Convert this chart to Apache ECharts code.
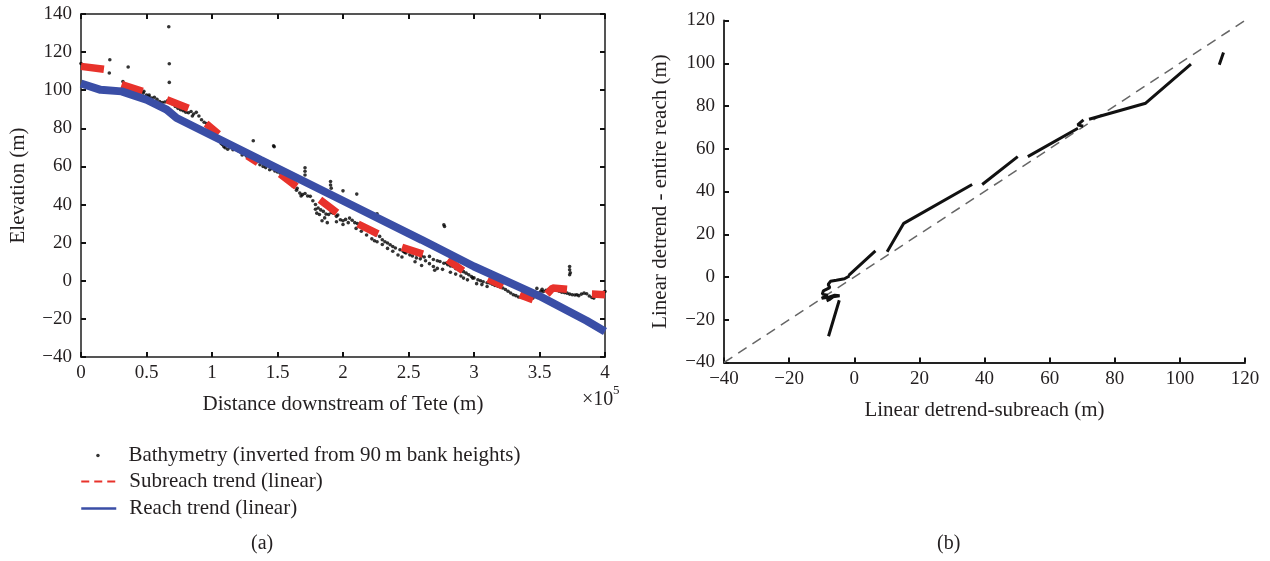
<!DOCTYPE html>
<html><head><meta charset="utf-8">
<script src="https://cdn.jsdelivr.net/npm/echarts@6/dist/echarts.min.js"></script>
<style>html,body{margin:0;padding:0;background:#fff}#c{width:1270px;height:561px}</style>
</head><body><div id="c"></div>
<script>
// ---------- DATA ----------
// (a) Bathymetry: distance downstream of Tete (m) and elevation (m)
const bathyDist = [
  33000,36000,39000,42000,45000,47500,50000,52000,54000,56000,58000,60000,62000,64000,66000,68000,70000,72000,74000,76000,
  78000,80000,82000,84000,86000,88000,90000,92000,94000,96000,98500,100000,102000,104000,106000,108000,110000,112000,114000,116000,
  118000,120000,122000,124000,126500,129000,131000,134000,136600,139000,141000,144000,146000,148000,150000,152000,154000,156000,158000,159500,
  162000,164500,167000,169000,171000,173000,175000,177000,179000,181000,183000,185000,187000,189000,191000,192600,195000,198000,200000,202000,
  205000,207000,209000,211000,213000,215000,217000,219000,221000,223000,225000,228000,230000,232000,234000,236000,238000,240000,243500,246000,
  248000,251000,253000,256000,259000,262000,266000,269000,272000,274000,277000,280000,282000,284000,286000,288000,290000,292000,294000,296000,
  298000,300000,303000,305000,307000,310000,312000,314000,316000,318000,320000,322000,324000,326000,328000,330000,332000,334000,336000,338000,
  340000,342000,345000,347000,349000,351000,353000,355000,357000,359000,361000,363000,365000,367000,369000,371000,373000,375000,377000,378500,
  380000,382000,384000,386000,388000,390000,391500,393000,395000,397000,399000,400000,
  // scattered points
  0,21600,22000,32000,36000,67400,67400,67000,131500,147000,147500,171000,171000,171000,190500,190500,191000,200000,210500,226000,
  277000,277500,373000,373000,373500,373000,179000,180000,182000,184000,186000,188000,195000,200000,204000,210000,214000,218000,222000,224000,
  226000,230000,234000,238000,242000,245000,247000,255000,260000,263000,266000,269000,270000,272000,276000,279000,282000,286000,290000,292000,
  295000,299000,302000,306000,310000,107000,109000,113000,117000,123000,48000,52000,79000,85000,157000,161000,165000,168000,196000,256000,
  260000,348000,352000
];
const bathyElev = [
  102.5,101.5,100.8,100,99.2,98.5,97.5,96.5,95.9,96.3,95.2,94.1,93.5,93.8,94.5,94.1,92.8,91.5,90.5,89.8,
  89.2,88.5,88.2,88.8,87.5,88.4,86.5,84.5,83.2,82.5,81,79.5,77.5,75.8,74,71.5,69.8,69,70,68.8,
  69.3,68.2,67.5,66.8,65.3,64.5,64,62.3,60.9,60,59.4,58.3,58.8,57.6,57.1,56.5,55,53.5,52.4,51.3,
  49.5,47.5,46,45.2,45.8,44.5,44.3,42,40,38.2,37.2,36.4,35,34.8,35.8,35.5,33.8,32,31.5,32.2,
  32.9,31.8,30.5,30,29.4,28.6,27.5,26.8,25.9,24.8,24,23.3,21.5,20.5,19.8,18.9,18,17.2,16.3,15.5,
  14.6,13.6,13,12,11.5,12.5,12.8,11.2,10.5,10.1,9.2,8.4,7.8,7.5,6.4,5.8,5.2,4.8,4,3.2,
  2.2,1.5,0.5,0,-0.5,-1,-1.2,-1.8,-2.5,-2.8,-3.3,-3.8,-4.6,-5.5,-6.4,-7.3,-7.8,-8.5,-8.8,-9.1,
  -9.3,-9.5,-9.1,-8,-6.5,-5.5,-5.6,-5,-4.5,-4.8,-5,-4.7,-5.5,-6,-6.2,-6.5,-7,-7.3,-7.5,-7.3,
  -7.8,-7,-6.5,-6.8,-8,-8.8,-9.1,-8,-7,-6.8,-6,-5.6,
  // scattered points
  114,109,116,104.6,112.2,113.9,104.1,133.3,73.5,70.8,70.3,59.3,57.5,55.5,52.1,50.3,48.6,47.2,45.5,35.2,
  29.4,28.5,7.5,5.8,4.2,3.2,37.5,35.5,34.8,31.5,33,30.5,31,29.5,30.5,27.5,26,24,22,21,
  20.5,19,17,15.5,13.5,12.5,15,10,8,10.5,9,7.5,5.5,6.5,6,9.3,4.5,3.5,2.5,1.4,
  0.5,1.4,-1.5,-2,-3,72,70.5,71,70,66,99.5,97.5,89.8,86.5,55,51,48.5,44.5,34.5,14,
  13,-4,-4.5
];
// (a) Subreach linear trends (null = break between subreaches)
const subreachDist = [0,17500,null, 31000,47000,null, 65500,82000,null, 95500,105000,null, 127000,135000,null,
  152000,164500,null, 182400,195400,null, 211500,226700,null, 245000,261000,null, 280000,291600,null,
  310700,322100,null, 335000,345000,null, 355700,360000,371000,null, 390000,400000];
const subreachElev = [112.5,111,null, 103,99.4,null, 95,90.5,null, 82.5,77,null, 65.6,62,null,
  56,49.5,null, 42.5,35.7,null, 29.8,24.6,null, 17.6,14,null, 11,5.3,null,
  1,-2.8,null, -7.3,-10,null, -7,-3.8,-4.5,null, -7,-7.3];
// (a) Reach linear trend
const reachDist = [0,15000,31000,50000,65400,73000,137000,200000,260000,300000,350000,386000,400000];
const reachElev = [103.5,100.2,99.4,95,89.8,85.4,63.5,42,21.5,7.5,-8,-21,-26.6];

// (b) Linear detrend: subreach (x) vs entire reach (y); null = gap
const detrendSub = [-7.9,-4.6,null,
  -1.5,-3,-5.5,-7.3,-8,-7.5,-9.5,-9.8,-8.2,-10,-8,-6,-4.5,-6.5,-7.5,-8.5,null,
  -1.7,6.5,null, 10.1,15.2,36.2,null, 39.3,50.2,null, 53.3,68.7,null, 70.4,68.6,70.3,null,
  72.1,89.5,103.4,null, 112.1,113.4];
const detrendReach = [-27.7,-10.9,null,
  0.5,-0.8,-1.5,-2,-3.5,-5,-6.5,-8,-8.5,-10,-9.5,-8.5,-8.8,-9.3,-10.5,-11.2,null,
  0.8,12.2,null, 11.8,25.1,43.3,null, 43.3,56.3,null, 56.3,69.6,null, 73.5,71.2,70.5,null,
  73.8,81.3,99.6,null, 99.3,105];
const oneToOne = [-40,120];

// Tick settings
const distTicks = {min: 0, max: 400000, interval: 50000};
const elevTicks = {min: -40, max: 140, interval: 20};
const detrendTicks = {min: -40, max: 120, interval: 20};

const names = {
  bathy: 'Bathymetry (inverted from 90\u2009m bank heights)',
  sub: 'Subreach trend (linear)',
  reach: 'Reach trend (linear)'
};

// ---------- CHART ----------
const FONT = 'Liberation Serif';
const TXT = '#231f20';
const pair = (xs, ys) => xs.map((x, i) => (x === null ? [null, null] : [x, ys[i]]));
const minus = v => String(v).replace('-', '\u2212');

const tick = {show: true, inside: true, length: 5, lineStyle: {color: '#111', width: 2}};
const lbl = {color: TXT, fontFamily: FONT, fontSize: 19};
const nameStyle = {color: TXT, fontFamily: FONT, fontSize: 21};
const axLine = c => ({onZero: false, lineStyle: {color: c, width: 2}});

const chart = echarts.init(document.getElementById('c'), null, {renderer: 'canvas'});
chart.setOption({
  animation: false,
  backgroundColor: '#fff',
  textStyle: {fontFamily: FONT},
  grid: [
    {left: 81, top: 14, width: 524, height: 343},
    {left: 724, top: 20.5, width: 521, height: 342}
  ],
  xAxis: [
    {type: 'value', gridIndex: 0, position: 'bottom', ...distTicks,
      axisLine: axLine('#555'), axisTick: tick, splitLine: {show: false},
      axisLabel: {...lbl, margin: 7, formatter: v => String(v / 100000)},
      name: 'Distance downstream of Tete (m)', nameLocation: 'middle', nameGap: 37, nameTextStyle: nameStyle},
    {type: 'value', gridIndex: 0, position: 'top', ...distTicks,
      axisLine: axLine('#555'), axisTick: tick, splitLine: {show: false},
      axisLabel: {show: false}},
    {type: 'value', gridIndex: 1, position: 'bottom', ...detrendTicks,
      axisLine: axLine('#222'), axisTick: tick, splitLine: {show: false},
      axisLabel: {...lbl, margin: 7, formatter: minus},
      name: 'Linear detrend-subreach (m)', nameLocation: 'middle', nameGap: 37, nameTextStyle: nameStyle}
  ],
  yAxis: [
    {type: 'value', gridIndex: 0, position: 'left', ...elevTicks,
      axisLine: axLine('#555'), axisTick: tick, splitLine: {show: false},
      axisLabel: {...lbl, margin: 9, formatter: minus},
      name: 'Elevation (m)', nameLocation: 'middle', nameGap: 52, nameTextStyle: nameStyle},
    {type: 'value', gridIndex: 0, position: 'right', ...elevTicks,
      axisLine: axLine('#555'), axisTick: tick, splitLine: {show: false},
      axisLabel: {show: false}},
    {type: 'value', gridIndex: 1, position: 'left', ...detrendTicks,
      axisLine: axLine('#333'), axisTick: tick, splitLine: {show: false},
      axisLabel: {...lbl, margin: 9, formatter: minus},
      name: 'Linear detrend - entire reach (m)', nameLocation: 'middle', nameGap: 53, nameTextStyle: nameStyle}
  ],
  legend: [
    {data: [names.bathy], orient: 'vertical', left: 96.2, top: 445, padding: 0,
      itemWidth: 35, itemHeight: 3.5, icon: 'circle',
      textStyle: {color: TXT, fontFamily: FONT, fontSize: 21, padding: [0, 0, 0, 8]}},
    {data: [{name: names.sub, lineStyle: {type: [8, 5], width: 2}}, {name: names.reach, lineStyle: {width: 2.5}}],
      orient: 'vertical', left: 80, top: 471, padding: 0, itemGap: 6,
      itemWidth: 35, itemHeight: 14, lineStyle: {width: 2},
      itemStyle: {color: 'rgba(0,0,0,0)', opacity: 0, borderWidth: 0},
      textStyle: {color: TXT, fontFamily: FONT, fontSize: 21, padding: [0, 0, 0, 8]}}
  ],
  graphic: [
    {type: 'text', left: 582, top: 390, style: {text: '\u00d710', fill: TXT, font: '20px "Liberation Serif"'}},
    {type: 'text', left: 613, top: 384, style: {text: '5', fill: TXT, font: '13px "Liberation Serif"'}},
    {type: 'text', left: 251, top: 534, style: {text: '(a)', fill: TXT, font: '20px "Liberation Serif"'}},
    {type: 'text', left: 937, top: 534, style: {text: '(b)', fill: TXT, font: '20px "Liberation Serif"'}}
  ],
  series: [
    {name: names.bathy, type: 'scatter', xAxisIndex: 0, yAxisIndex: 0, symbol: 'circle', symbolSize: 3.6,
      itemStyle: {color: '#000'}, data: pair(bathyDist, bathyElev), z: 2},
    {name: names.sub, type: 'line', xAxisIndex: 0, yAxisIndex: 0, symbol: 'none', connectNulls: false,
      lineStyle: {color: '#e8322b', width: 7.5}, itemStyle: {color: '#e8322b'},
      data: pair(subreachDist, subreachElev), z: 3},
    {name: names.reach, type: 'line', xAxisIndex: 0, yAxisIndex: 0, symbol: 'none',
      lineStyle: {color: '#3a4ea6', width: 8}, itemStyle: {color: '#3a4ea6'},
      data: pair(reachDist, reachElev), z: 4},
    {name: '1:1', type: 'line', xAxisIndex: 2, yAxisIndex: 2, symbol: 'none',
      lineStyle: {color: '#666', width: 1.5, type: [10, 7]},
      data: pair(oneToOne, oneToOne), z: 2},
    {name: 'detrend', type: 'line', xAxisIndex: 2, yAxisIndex: 2, symbol: 'none', connectNulls: false,
      lineStyle: {color: '#111', width: 3}, data: pair(detrendSub, detrendReach), z: 3}
  ]
});
</script></body></html>
